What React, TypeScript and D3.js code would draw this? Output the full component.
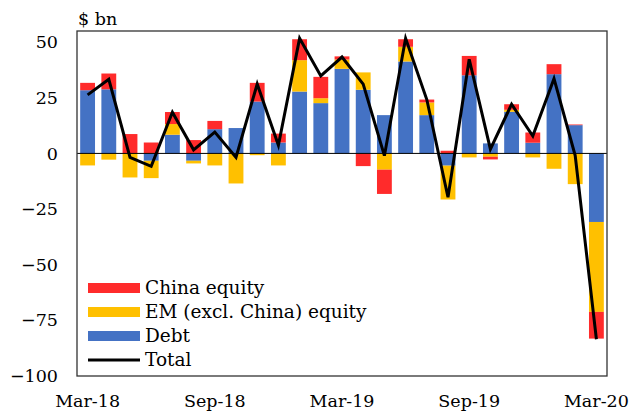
import { useEffect, useRef } from "react";
import * as d3 from "d3";

const months = [
  "Mar-18", "Apr-18", "May-18", "Jun-18", "Jul-18", "Aug-18", "Sep-18",
  "Oct-18", "Nov-18", "Dec-18", "Jan-19", "Feb-19", "Mar-19", "Apr-19",
  "May-19", "Jun-19", "Jul-19", "Aug-19", "Sep-19", "Oct-19", "Nov-19",
  "Dec-19", "Jan-20", "Feb-20", "Mar-20",
];
const debt = [
  28.4, 28.8, 0, -3.3, 8.4, -3.3, 10.9, 11.4, 23.3, 4.9, 27.8, 22.6, 38.0,
  28.6, 17.2, 41.3, 17.2, -5.5, 35.1, 4.5, 18.7, 4.8, 35.6, 12.7, -30.8,
];
const emEquity = [
  -5.4, -2.8, -10.8, -7.8, 4.8, -1.2, -5.4, -13.5, -0.8, -5.4, 14.1, 2.2, 4.2,
  7.8, -7.3, 6.6, 5.7, -15.2, -1.8, -1.5, 0.9, -1.8, -6.9, -13.8, -40.4,
];
const chinaEquity = [
  3.3, 7.1, 8.7, 4.9, 5.4, 6.0, 3.7, 0, 8.4, 4.0, 9.4, 9.6, 1.4, -5.7, -10.9,
  3.4, 1.3, 1.2, 8.7, -1.2, 2.5, 4.6, 4.5, 0.3, -12.0,
];
const total = [
  26.3, 33.3, -1.8, -5.8, 18.5, 1.6, 9.6, -1.8, 31.2, 3.7, 51.7, 34.8, 43.3,
  31.1, -1.0, 51.7, 24.2, -19.7, 42.3, 1.9, 22.1, 7.8, 33.6, -1.0, -83.5,
];
const yTicks = [50, 25, 0, -25, -50, -75, -100];
const xLabels = ["Mar-18", "Sep-18", "Mar-19", "Sep-19", "Mar-20"];

const seriesKeys = ["debt", "em", "china"];
const seriesNames: Record<string, string> = {
  china: "China equity",
  em: "EM (excl. China) equity",
  debt: "Debt",
};
const colors: Record<string, string> = {
  debt: "#4472C4",
  em: "#FFC000",
  china: "#FF2B2B",
};

const W = 633;
const H = 411;
const font = "'DejaVu Serif', serif";

export default function App() {
  const svgRef = useRef<SVGSVGElement | null>(null);

  useEffect(() => {
    document.body.style.margin = "0";
    if (!svgRef.current) return;
    const svg = d3.select(svgRef.current);
    svg.selectAll("*").remove();

    const left = 77, right = 607, top = 31, bottom = 376;

    const rows = months.map((m, i) => ({
      month: m,
      debt: debt[i],
      em: emEquity[i],
      china: chinaEquity[i],
    }));

    const x = d3
      .scaleBand<string>()
      .domain(months)
      .range([left, right])
      .paddingInner(0.3)
      .paddingOuter(0.15);
    const y = d3.scaleLinear().domain([-100, 55]).range([bottom, top]);

    const stacked = d3
      .stack<any>()
      .keys(seriesKeys)
      .offset(d3.stackOffsetDiverging)(rows);

    // bars
    svg
      .append("g")
      .selectAll("g")
      .data(stacked)
      .join("g")
      .attr("fill", (s) => colors[s.key])
      .selectAll("rect")
      .data((s) => s)
      .join("rect")
      .attr("x", (d) => x(d.data.month)!)
      .attr("width", x.bandwidth())
      .attr("y", (d) => y(Math.max(d[0], d[1])))
      .attr("height", (d) => Math.abs(y(d[0]) - y(d[1])));

    // zero line
    svg
      .append("line")
      .attr("x1", left)
      .attr("x2", right)
      .attr("y1", y(0))
      .attr("y2", y(0))
      .attr("stroke", "#000")
      .attr("stroke-width", 1);

    // plot frame
    svg
      .append("rect")
      .attr("x", left)
      .attr("y", top)
      .attr("width", right - left)
      .attr("height", bottom - top)
      .attr("fill", "none")
      .attr("stroke", "#333")
      .attr("stroke-width", 1.3);

    // total line
    const line = d3
      .line<number>()
      .x((_, i) => x(months[i])! + x.bandwidth() / 2)
      .y((d) => y(d));
    svg
      .append("path")
      .datum(total)
      .attr("d", line)
      .attr("fill", "none")
      .attr("stroke", "#000")
      .attr("stroke-width", 3)
      .attr("stroke-linejoin", "miter");

    // y axis labels
    svg
      .append("g")
      .selectAll("text")
      .data(yTicks)
      .join("text")
      .attr("x", 58)
      .attr("y", (d) => y(d))
      .attr("dy", "0.35em")
      .attr("text-anchor", "end")
      .attr("font-family", font)
      .attr("font-size", 17.5)
      .text((d) => d3.format("d")(d));

    // x labels
    svg
      .append("g")
      .selectAll("text")
      .data(xLabels)
      .join("text")
      .attr("x", (d) => x(d)! + x.bandwidth() / 2)
      .attr("y", 407)
      .attr("text-anchor", "middle")
      .attr("font-family", font)
      .attr("font-size", 17.5)
      .text((d) => d);

    // unit label
    svg
      .append("text")
      .attr("x", 78)
      .attr("y", 25)
      .attr("font-family", font)
      .attr("font-size", 17.5)
      .text("$ bn");

    // legend
    const legendItems = ["china", "em", "debt", "total"];
    const lg = svg
      .append("g")
      .selectAll("g")
      .data(legendItems)
      .join("g")
      .attr("transform", (_, i) => `translate(88,${288 + i * 24})`);
    lg.filter((d) => d !== "total")
      .append("rect")
      .attr("x", 0)
      .attr("y", -5)
      .attr("width", 52)
      .attr("height", 10)
      .attr("fill", (d) => colors[d]);
    lg.filter((d) => d === "total")
      .append("line")
      .attr("x1", 0)
      .attr("x2", 52)
      .attr("stroke", "#000")
      .attr("stroke-width", 3);
    lg.append("text")
      .attr("x", 57)
      .attr("dy", "0.35em")
      .attr("font-family", font)
      .attr("font-size", 18.5)
      .text((d) => (d === "total" ? "Total" : seriesNames[d]));
  }, []);

  return <svg ref={svgRef} width={W} height={H} style={{ display: "block" }} />;
}
